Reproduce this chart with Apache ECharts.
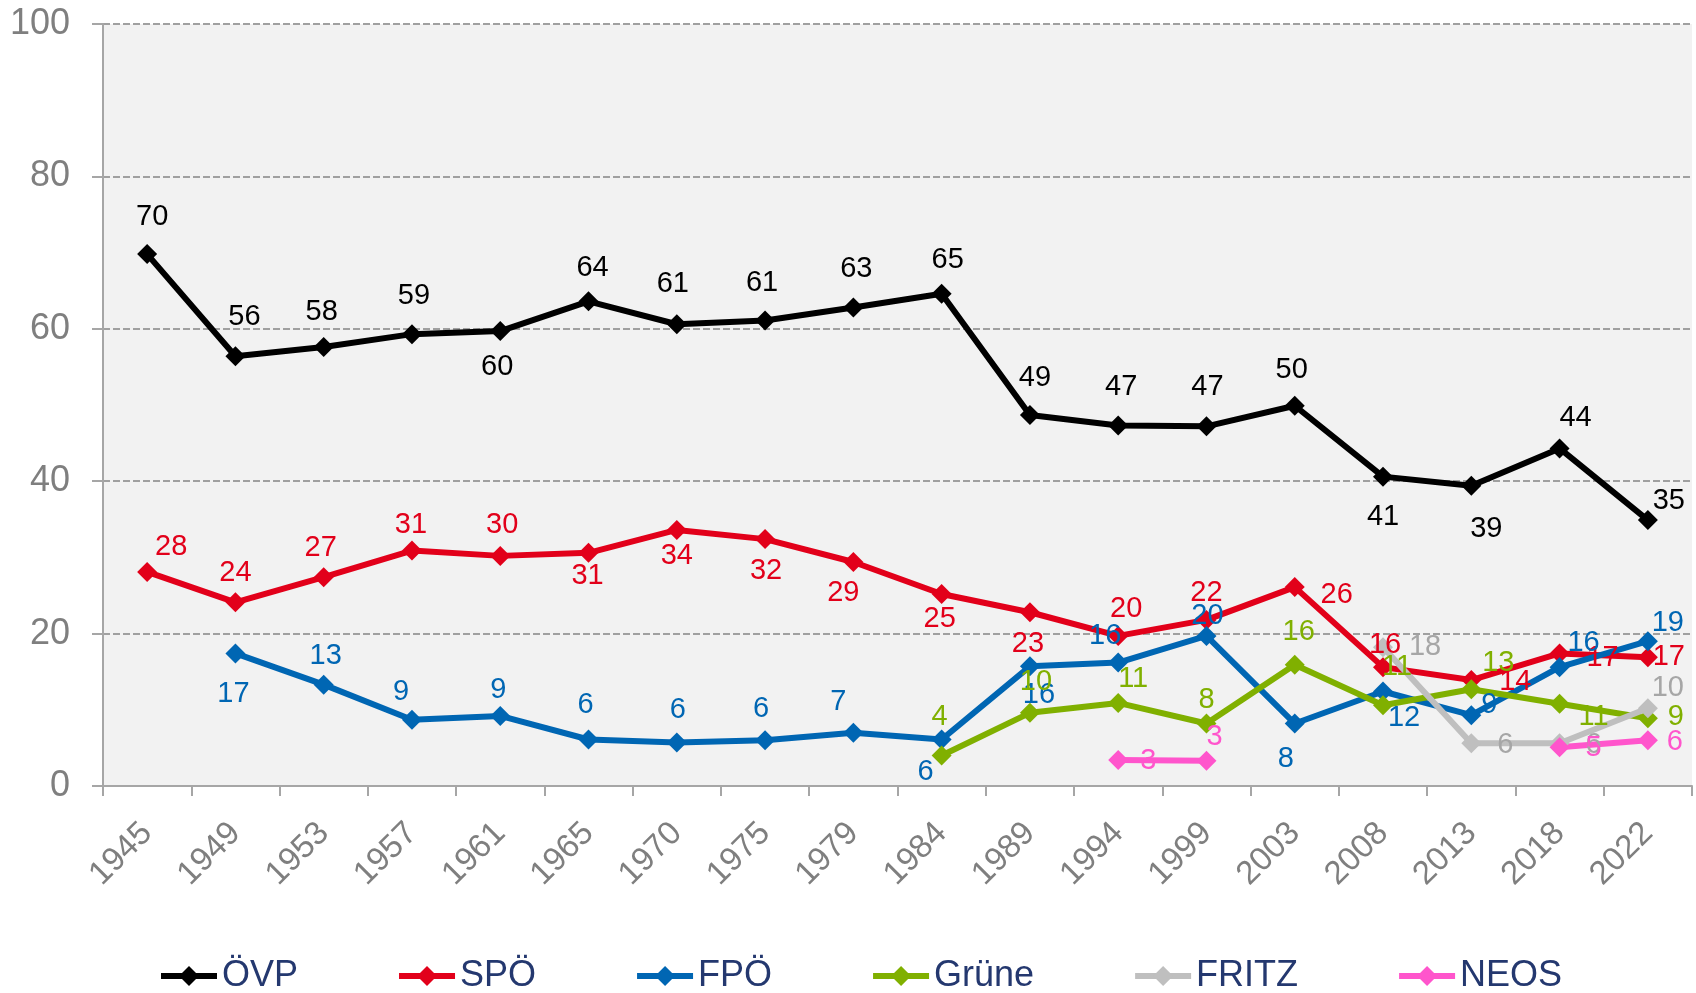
<!DOCTYPE html>
<html lang="de">
<head>
    <meta charset="UTF-8">
    <title>Landtagswahlen Tirol 1945-2022</title>
    <style>
        html, body {
            margin: 0;
            padding: 0;
            background: #ffffff;
        }
        #main {
            width: 1696px;
            height: 993px;
        }
    </style>
    <script type="text/javascript" src="https://cdn.jsdelivr.net/npm/echarts@6/dist/echarts.min.js"></script>
</head>
<body>
<div id="main"></div>
<script type="text/javascript">
    var years = ["1945","1949","1953","1957","1961","1965","1970","1975","1979",
        "1984","1989","1994","1999","2003","2008","2013","2018","2022"];
    var yTicks = [0, 20, 40, 60, 80, 100];

    // vote shares in %, null = party not on the ballot
    var ovp = [69.8, 56.4, 57.6, 59.3, 59.7, 63.6, 60.6, 61.1, 62.8, 64.6,
        48.7, 47.3, 47.2, 49.9, 40.6, 39.4, 44.3, 34.9];
    var spo = [28.1, 24.1, 27.4, 30.9, 30.2, 30.6, 33.6, 32.4, 29.4, 25.2,
        22.8, 19.7, 21.8, 26.1, 15.6, 13.9, 17.4, 16.9];
    var fpo = [null, 17.4, 13.3, 8.7, 9.2, 6.1, 5.7, 6.0, 7.0, 6.1,
        15.7, 16.2, 19.7, 8.2, 12.4, 9.3, 15.6, 19.0];
    var gruene = [null, null, null, null, null, null, null, null, null, 4.0,
        9.6, 10.9, 8.2, 15.9, 10.6, 12.7, 10.8, 8.9];
    var fritz = [null, null, null, null, null, null, null, null, null, null,
        null, null, null, null, 18.2, 5.6, 5.6, 10.2];
    var neos = [null, null, null, null, null, null, null, null, null, null,
        null, 3.4, 3.3, null, null, null, 5.1, 6.0];

    // where each data label sits, relative to its point (px)
    var shiftOvp = [[5,-37],[9,-39],[-2,-35],[2,-38],[-3,36],[4,-33],[-4,-40],[-3,-37],[3,-38],
        [6,-34],[5,-37],[3,-39],[1,-39],[-3,-36],[0,40],[15,43],[16,-30],[21,-19]];
    var shiftSpo = [[24,-25],[0,-29],[-3,-29],[-1,-26],[2,-31],[-1,23],[0,26],[1,32],[-10,31],
        [-2,25],[-2,32],[8,-27],[0,-27],[42,8],[2,-22],[44,2],[43,5],[21,0]];
    var shiftFpo = [null,[-2,41],[2,-29],[-11,-28],[-2,-26],[-3,-35],[1,-33],[-4,-31],[-15,-31],
        [-16,32],[9,29],[-13,-27],[1,-20],[-9,35],[21,26],[18,-10],[24,-24],[20,-18]];
    var shiftGruene = [null,null,null,null,null,null,null,null,null,
        [-2,-39],[6,-31],[15,-24],[0,-24],[4,-33],[14,-38],[27,-26],[34,13],[28,-1]];
    var shiftFritz = [null,null,null,null,null,null,null,null,null,
        null,null,null,null,null,[42,0],[34,2],[34,2],[20,-20]];
    var shiftNeos = [null,null,null,null,null,null,null,null,null,
        null,null,[30,1],[8,-24],null,null,null,[34,1],[27,2]];

    var font = "'Liberation Sans', Arial, sans-serif";

    function makeSeries(name, values, color, labelColor, shifts) {
        var data = [];
        for (var i = 0; i < values.length; i++) {
            if (values[i] === null) {
                data.push('-');
            } else {
                data.push({value: values[i], label: {offset: shifts[i] || [0, -35]}});
            }
        }
        return {
            name: name,
            type: 'line',
            data: data,
            symbol: 'diamond',
            symbolSize: 20,
            lineStyle: {color: color, width: 6},
            itemStyle: {color: color},
            label: {
                show: true,
                position: 'inside',
                color: labelColor,
                fontSize: 29,
                fontFamily: font,
                formatter: function (p) {
                    return Math.round(p.value);
                }
            },
            emphasis: {disabled: true}
        };
    }

    var chart = echarts.init(document.getElementById('main'));
    var option = {
        animation: false,
        grid: {
            left: 103,
            right: 4,
            top: 24,
            bottom: 207,
            show: true,
            backgroundColor: '#F2F2F2',
            borderWidth: 0,
            containLabel: false,
            outerBoundsMode: 'none'
        },
        legend: {
            left: 153,
            top: 953,
            itemWidth: 56,
            itemHeight: 25,
            itemGap: 98,
            lineStyle: {width: 6},
            textStyle: {color: '#24386F', fontSize: 36, fontFamily: font},
            data: ['ÖVP', 'SPÖ', 'FPÖ', 'Grüne', 'FRITZ', 'NEOS']
        },
        xAxis: {
            type: 'category',
            data: years,
            boundaryGap: true,
            axisLine: {lineStyle: {color: '#A6A6A6', width: 2}},
            axisTick: {show: true, length: 10, lineStyle: {color: '#A6A6A6', width: 2}},
            axisLabel: {
                interval: 0,
                rotate: 45,
                margin: 42,
                color: '#7F7F7F',
                fontSize: 33,
                fontFamily: font
            },
            splitLine: {show: false}
        },
        yAxis: {
            type: 'value',
            min: yTicks[0],
            max: yTicks[yTicks.length - 1],
            interval: 20,
            axisLine: {show: true, lineStyle: {color: '#A6A6A6', width: 2}},
            axisTick: {show: true, length: 11, lineStyle: {color: '#A6A6A6', width: 2}},
            axisLabel: {margin: 33, color: '#7F7F7F', fontSize: 36, fontFamily: font},
            splitLine: {lineStyle: {color: '#A0A0A0', width: 2, type: [7, 3]}}
        },
        series: [
            makeSeries('ÖVP', ovp, '#000000', '#000000', shiftOvp),
            makeSeries('SPÖ', spo, '#E2001A', '#E2001A', shiftSpo),
            makeSeries('FPÖ', fpo, '#0066B3', '#0066B3', shiftFpo),
            makeSeries('Grüne', gruene, '#80B000', '#80B000', shiftGruene),
            makeSeries('FRITZ', fritz, '#BFBFBF', '#A6A6A6', shiftFritz),
            makeSeries('NEOS', neos, '#FF55CC', '#FF55CC', shiftNeos)
        ]
    };
    chart.setOption(option);
</script>
</body>
</html>
